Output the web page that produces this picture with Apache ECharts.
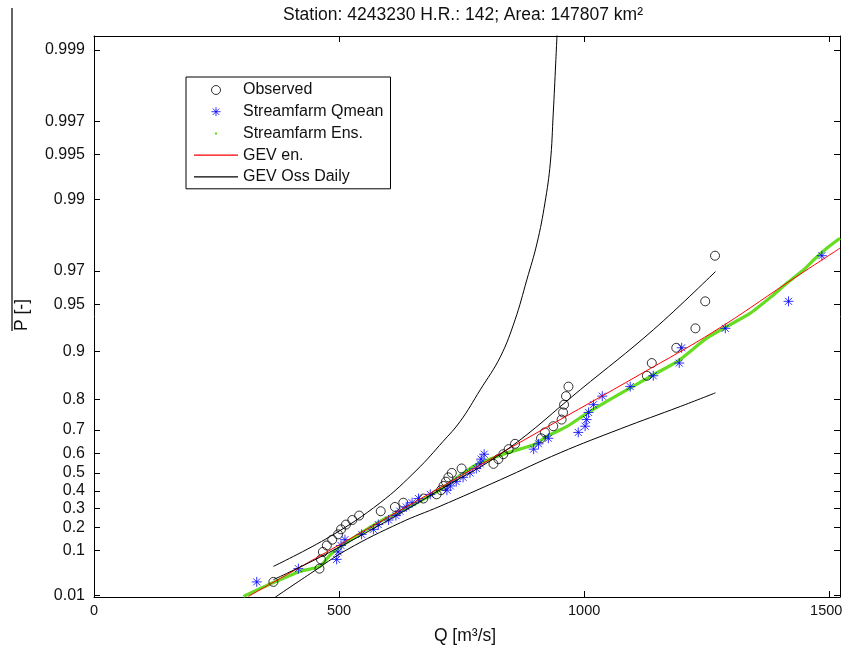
<!DOCTYPE html>
<html><head><meta charset="utf-8">
<script src="https://cdn.jsdelivr.net/npm/echarts@6/dist/echarts.min.js"></script>
<style>html,body{margin:0;padding:0;background:#fff}#c{width:844px;height:659px}</style>
</head><body><div id="c"></div>
<script>
// ---- data ----
const titleText = 'Station: 4243230 H.R.: 142; Area: 147807 km\u00b2';
const xName = 'Q [m\u00b3/s]';
const yName = 'P [-]';
const probTicks = [0.01,0.1,0.2,0.3,0.4,0.5,0.6,0.7,0.8,0.9,0.95,0.97,0.99,0.995,0.997,0.999];
const qTicks = [0,500,1000,1500];

const obsQ = [366,460,463,467,475,486,498,504,514,527,541,585,614,631,672,699,708,713,718,723,730,750,815,825,835,846,859,912,920,937,954,957,959,963,968,1128,1138,1188,1227,1247,1267];
const obsP = [0.0238,0.0476,0.0714,0.0952,0.1190,0.1429,0.1667,0.1905,0.2143,0.2381,0.2619,0.2857,0.3095,0.3333,0.3571,0.3810,0.4048,0.4286,0.4524,0.4762,0.5000,0.5238,0.5476,0.5714,0.5952,0.6190,0.6429,0.6667,0.6905,0.7143,0.7381,0.7619,0.7857,0.8095,0.8333,0.8571,0.8810,0.9048,0.9286,0.9524,0.9762];

const qmeanQ = [332,417,495,498,504,512,546,570,580,601,616,624,637,649,662,686,720,727,739,753,767,780,788,790,796,897,907,927,988,1002,1005,1009,1019,1037,1094,1141,1194,1199,1288,1417,1485];
const qmeanP = [0.0238,0.0476,0.0714,0.0952,0.1190,0.1429,0.1667,0.1905,0.2143,0.2381,0.2619,0.2857,0.3095,0.3333,0.3571,0.3810,0.4048,0.4286,0.4524,0.4762,0.5000,0.5238,0.5476,0.5714,0.5952,0.6190,0.6429,0.6667,0.6905,0.7143,0.7381,0.7619,0.7857,0.8095,0.8333,0.8571,0.8810,0.9048,0.9286,0.9524,0.9762];

const ensQ = [305,365,420,461,482,509,550,590,645,706,774,842,897,924,965,1006,1046,1087,1141,1192,1250,1291,1339,1386,1414,1448,1468,1495,1522];
const ensP = [0.0093,0.0227,0.0417,0.0528,0.0859,0.1220,0.1804,0.2395,0.3123,0.4070,0.5342,0.6006,0.6386,0.6741,0.7133,0.7598,0.7949,0.8256,0.8590,0.8848,0.9174,0.9305,0.9431,0.9568,0.9639,0.9705,0.9746,0.9788,0.9818];

const gevEnQ = [315,502,706,910,1114,1267,1414,1522];
const gevEnP = [0.0093,0.1232,0.4189,0.6961,0.8598,0.9259,0.9640,0.9788];

const gevOssQ = [366,461,584,706,842,992,1141,1268];
const gevOssP = [0.0270,0.0780,0.2135,0.4070,0.6160,0.8256,0.9270,0.9697];

const gevUpQ = [366,482,584,659,712,747,788,829,859,883,904,920,931,937,942,946];
const gevUpP = [0.0528,0.1572,0.3332,0.5169,0.6531,0.7314,0.8256,0.8913,0.9371,0.9656,0.98043,0.98941,0.99428,0.997356,0.998777,0.999371];

const gevLoQ = [366,441,516,625,706,829,951,1074,1196,1268];
const gevLoP = [0.0080,0.0371,0.1030,0.2237,0.3135,0.4629,0.6021,0.7045,0.7803,0.8181];

// ---- helpers ----
const gumbel = p => -Math.log(-Math.log(p));
const pairs = (qs, ps) => qs.map((q, i) => [q, gumbel(ps[i])]);
const tickG = probTicks.map(gumbel);
const fmtY = v => {
  let best = 0, bd = Infinity;
  tickG.forEach((g, i) => { const d = Math.abs(g - v); if (d < bd) { bd = d; best = i; } });
  return String(probTicks[best]);
};
const lastQ = qTicks[qTicks.length - 1];
const fmtX = v => (v === lastQ ? '{last|' + v + '}' : String(v));

const FONT = 'Liberation Sans';
const yMin = -1.552, yMax = 7.124;
const xMin = 0, xMax = 1522;

const svgIcon = s => 'image://data:image/svg+xml;charset=utf-8,' + encodeURIComponent(s);
const asterisk = 'path://M5 0L5 10M0 5L10 5M1.5 1.5L8.5 8.5M1.5 8.5L8.5 1.5';
const dotIcon = svgIcon('<svg xmlns="http://www.w3.org/2000/svg" width="10" height="10"><circle cx="5" cy="5" r="1.3" fill="#55dd22"/></svg>');
const lineIcon = c => svgIcon('<svg xmlns="http://www.w3.org/2000/svg" width="44" height="9"><line x1="0" y1="4.5" x2="44" y2="4.5" stroke="' + c + '" stroke-width="1.2"/></svg>');

const yAxisBase = (pos, showLabel) => ({
  type: 'value', position: pos, min: yMin, max: yMax,
  axisLine: { show: true, onZero: false, lineStyle: { color: '#000', width: 1 } },
  axisTick: { show: true, inside: true, length: 6, customValues: tickG, lineStyle: { color: '#000' } },
  axisLabel: { show: showLabel, customValues: tickG, formatter: fmtY, fontSize: 16, fontFamily: FONT, color: '#111', margin: 9 },
  splitLine: { show: false }
});
const xAxisBase = (pos, showLabel) => ({
  type: 'value', position: pos, min: xMin, max: xMax,
  axisLine: { show: true, onZero: false, lineStyle: { color: '#000', width: 1 } },
  axisTick: { show: true, inside: true, length: 6, customValues: qTicks, lineStyle: { color: '#000' } },
  axisLabel: { show: showLabel, customValues: qTicks, formatter: fmtX, fontSize: 14.5, fontFamily: FONT, color: '#111', margin: 6,
    rich: { last: { fontSize: 14.5, fontFamily: FONT, color: '#111', padding: [0, 6, 0, 0] } } },
  splitLine: { show: false }
});

const chart = echarts.init(document.getElementById('c'), null, { renderer: 'canvas' });
chart.setOption({
  animation: false,
  backgroundColor: '#fff',
  grid: { left: 94, right: 4, top: 36, bottom: 62, containLabel: false, outerBoundsMode: 'none' },
  xAxis: [xAxisBase('bottom', true), xAxisBase('top', false)],
  yAxis: [yAxisBase('left', true), yAxisBase('right', false)],
  legend: {
    orient: 'vertical', left: 186, top: 77,
    padding: [5, 7, 4, 8], itemGap: 5.7, itemWidth: 44, itemHeight: 9,
    borderColor: '#000', borderWidth: 1, backgroundColor: '#fff',
    textStyle: { fontSize: 16, fontFamily: FONT, color: '#111', lineHeight: 16 },
    itemStyle: { borderWidth: 1 },
    data: [
      { name: 'Observed' },
      { name: 'Streamfarm Qmean' },
      { name: 'Streamfarm Ens.', icon: dotIcon },
      { name: 'GEV en.', icon: lineIcon('#ff0000') },
      { name: 'GEV Oss Daily', icon: lineIcon('#000000') }
    ]
  },
  graphic: [
    { type: 'text', x: 463, y: 15, style: { text: titleText, font: '17.5px "Liberation Sans"', fill: '#111', align: 'center', verticalAlign: 'middle' } },
    { type: 'text', x: 465, y: 636, style: { text: xName, font: '17.5px "Liberation Sans"', fill: '#111', align: 'center', verticalAlign: 'middle' } },
    { type: 'text', x: 22, y: 315, rotation: Math.PI / 2, style: { text: yName, font: '17.5px "Liberation Sans"', fill: '#111', align: 'center', verticalAlign: 'middle' } },
    { type: 'line', shape: { x1: 12, y1: 8, x2: 12, y2: 331 }, style: { stroke: '#333', lineWidth: 1.5 } }
  ],
  series: [
    { name: 'Observed', type: 'scatter', data: pairs(obsQ, obsP), symbol: 'circle', symbolSize: 9,
      itemStyle: { color: 'none', borderColor: '#000', borderWidth: 1 }, z: 3 },
    { name: 'Streamfarm Qmean', type: 'scatter', data: pairs(qmeanQ, qmeanP), symbol: asterisk, symbolSize: 10,
      itemStyle: { color: 'none', borderColor: '#0000ff', borderWidth: 1 }, z: 4 },
    { name: 'Streamfarm Ens.', type: 'line', data: pairs(ensQ, ensP), symbol: 'none', smooth: 0.2,
      lineStyle: { color: '#66dd22', width: 3.2 }, itemStyle: { color: '#55dd22' }, z: 2 },
    { name: 'GEV en.', type: 'line', data: pairs(gevEnQ, gevEnP), symbol: 'none', smooth: 0.4,
      lineStyle: { color: '#ff0000', width: 1 }, itemStyle: { color: '#ff0000' }, z: 5 },
    { name: 'GEV Oss Daily', type: 'line', data: pairs(gevOssQ, gevOssP), symbol: 'none', smooth: 0.4,
      lineStyle: { color: '#000', width: 1 }, itemStyle: { color: '#000' }, z: 5 },
    { name: 'GEV Oss upper', type: 'line', data: pairs(gevUpQ, gevUpP), symbol: 'none', smooth: 0.4,
      lineStyle: { color: '#000', width: 1 }, z: 5 },
    { name: 'GEV Oss lower', type: 'line', data: pairs(gevLoQ, gevLoP), symbol: 'none', smooth: 0.4,
      lineStyle: { color: '#000', width: 1 }, z: 5 }
  ]
});
</script>
</body></html>
